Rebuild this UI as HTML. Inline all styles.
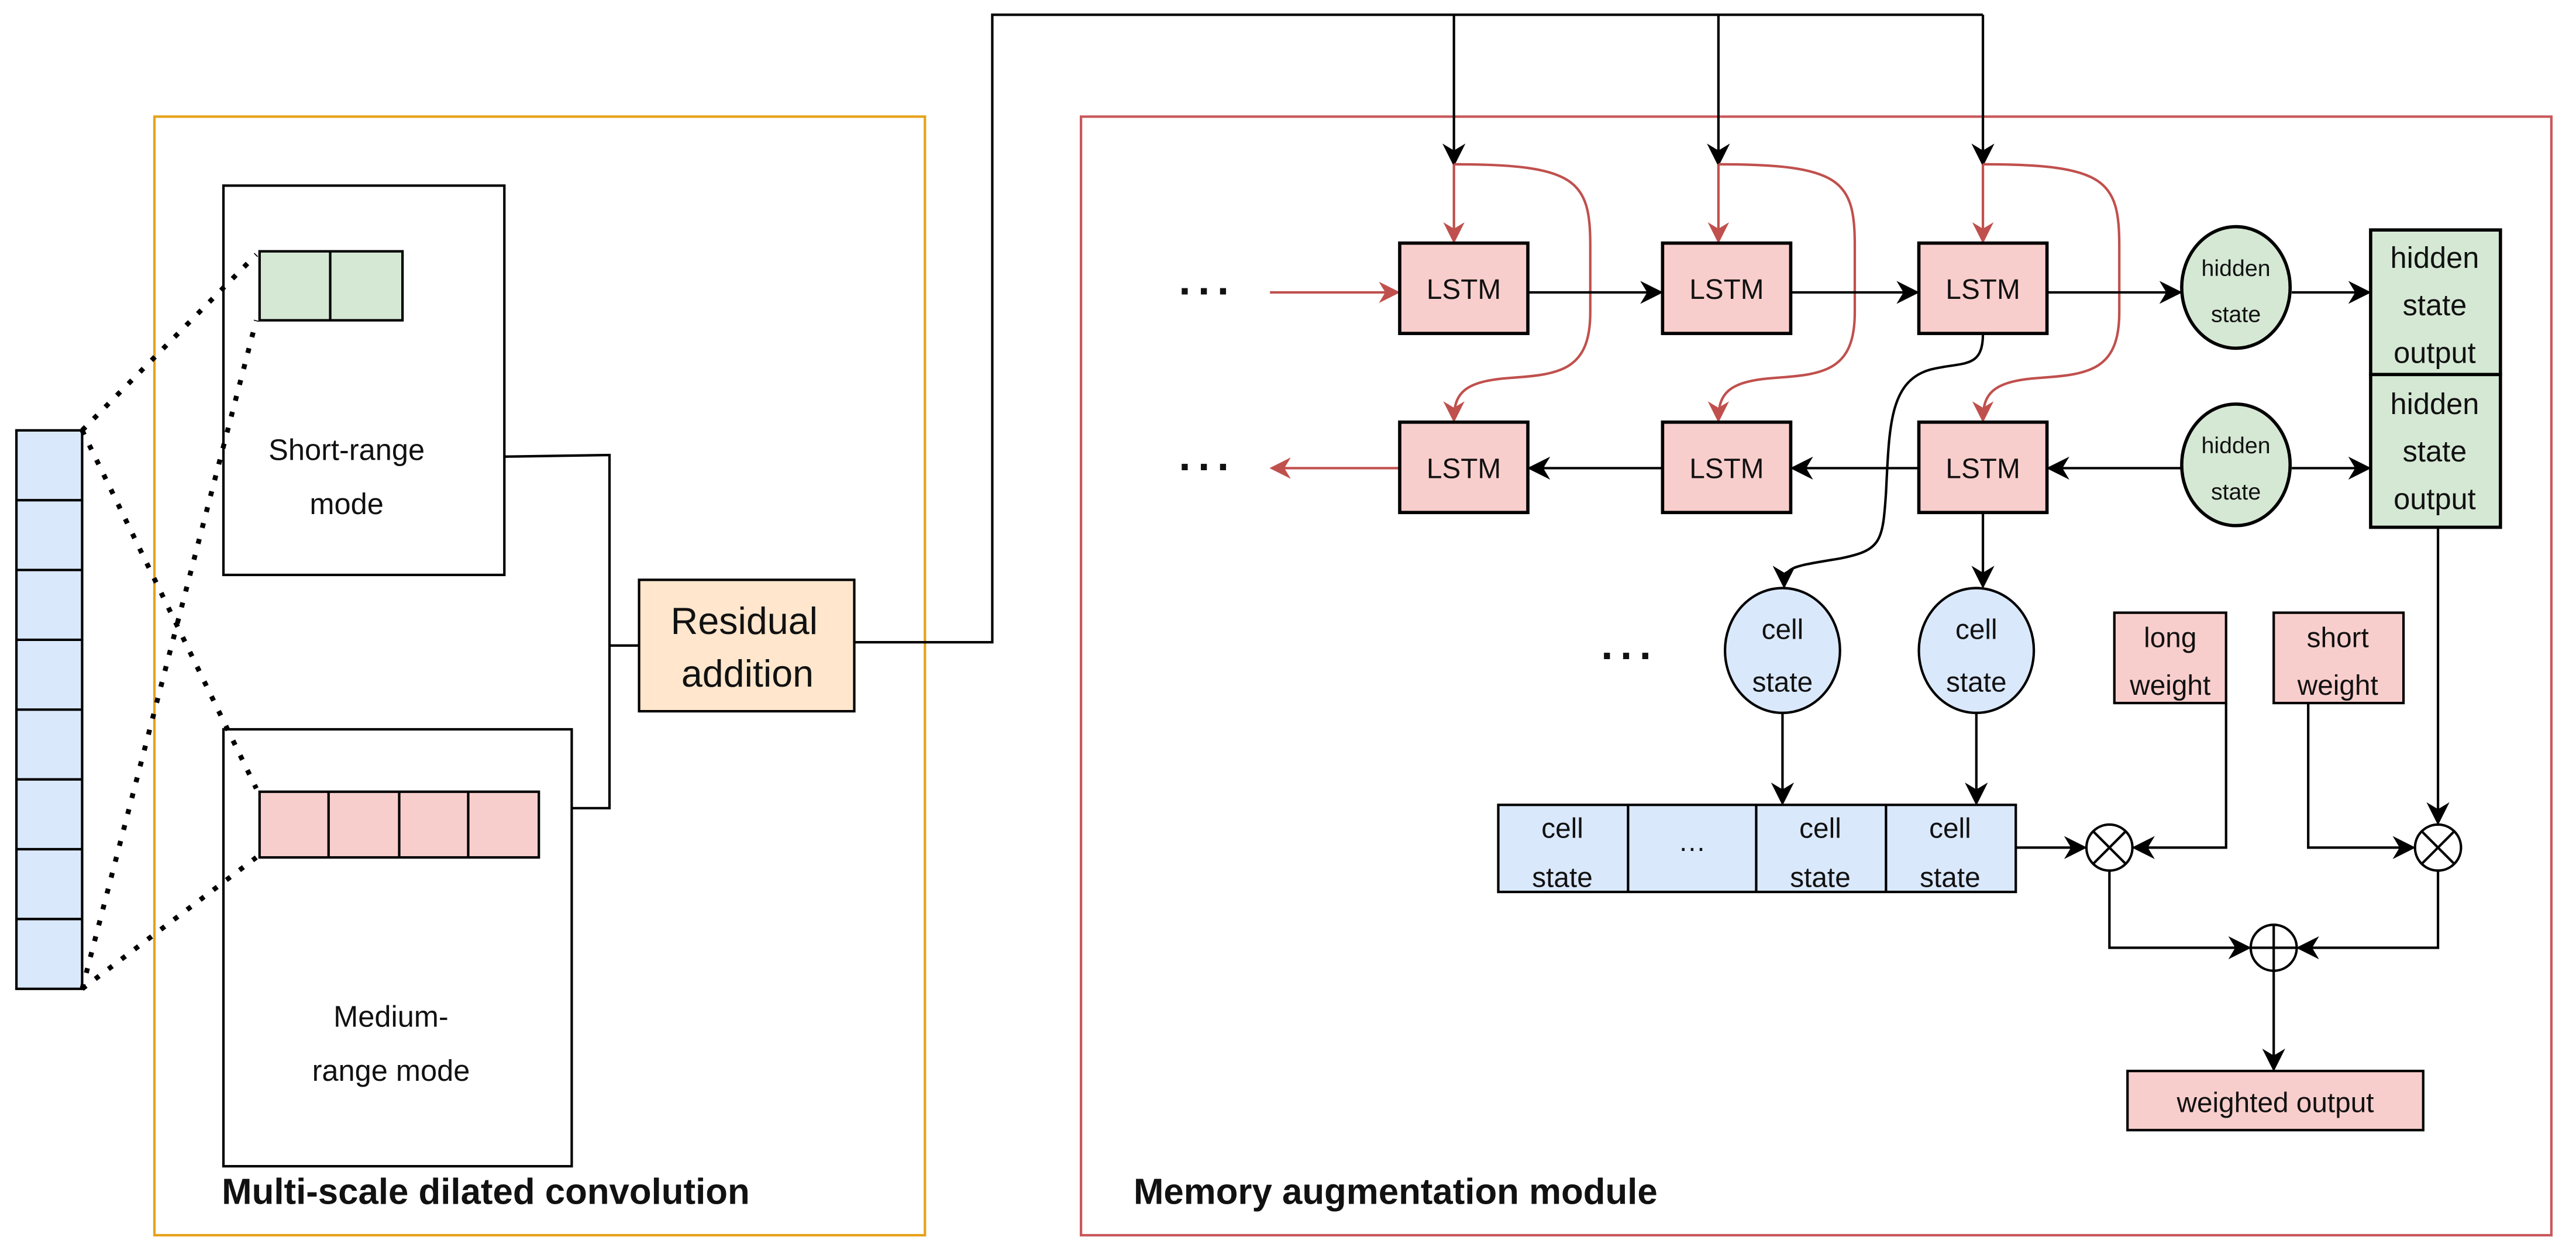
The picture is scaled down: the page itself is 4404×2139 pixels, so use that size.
<!DOCTYPE html>
<html><head><meta charset="utf-8"><style>html,body{margin:0;padding:0;background:#fff}svg{display:block}text{font-family:"Liberation Sans",sans-serif;fill:#111}</style></head>
<body>
<svg width="4404" height="2139" viewBox="0 0 1568 761.6" preserveAspectRatio="none" xmlns="http://www.w3.org/2000/svg">
<defs>
<marker id="abig" viewBox="0 0 10 10" refX="9" refY="5" markerWidth="14" markerHeight="14" orient="auto" markerUnits="userSpaceOnUse"><path d="M0,0 L10,5 L0,10 L3,5 z" fill="#000"/></marker>
<marker id="ar" viewBox="0 0 10 10" refX="9" refY="5" markerWidth="13" markerHeight="13" orient="auto" markerUnits="userSpaceOnUse"><path d="M0,0 L10,5 L0,10 L3,5 z" fill="#c0504d"/></marker>
</defs>
<g fill="none">
<rect x="94" y="71" width="469" height="681" stroke="#e6a21a" stroke-width="1.5"/>
<rect x="658" y="71" width="895" height="681" stroke="#c9575a" stroke-width="1.5"/>
</g>
<g stroke="#000" stroke-width="1.5" fill="#dae8fc">
<rect x="10" y="262" width="40" height="340"/>
<line x1="10" y1="304.5" x2="50" y2="304.5"/><line x1="10" y1="347" x2="50" y2="347"/><line x1="10" y1="389.5" x2="50" y2="389.5"/><line x1="10" y1="432" x2="50" y2="432"/><line x1="10" y1="474.5" x2="50" y2="474.5"/><line x1="10" y1="517" x2="50" y2="517"/><line x1="10" y1="559.5" x2="50" y2="559.5"/>
</g>
<rect x="136" y="113" width="171" height="237" fill="#fff" stroke="#000" stroke-width="1.5"/>
<rect x="136" y="444" width="212" height="266" fill="#fff" stroke="#000" stroke-width="1.5"/>
<g stroke="#000" stroke-width="1.5">
<rect x="158" y="153" width="87" height="42" fill="#d5e8d4"/><line x1="201" y1="153" x2="201" y2="195"/>
<rect x="158" y="482" width="170" height="40" fill="#f8cecc"/><line x1="200" y1="482" x2="200" y2="522"/><line x1="243" y1="482" x2="243" y2="522"/><line x1="285" y1="482" x2="285" y2="522"/>
</g>
<g stroke="#000" stroke-width="3" stroke-dasharray="3,7" fill="none">
<line x1="50" y1="262" x2="156" y2="155"/><line x1="50" y1="262" x2="156" y2="480"/>
<line x1="50" y1="602" x2="156" y2="195"/><line x1="50" y1="602" x2="156" y2="522"/>
</g>
<text x="211" y="280" font-size="18" text-anchor="middle">Short-range</text>
<text x="211" y="313" font-size="18" text-anchor="middle">mode</text>
<text x="238" y="625" font-size="18" text-anchor="middle">Medium-</text>
<text x="238" y="658" font-size="18" text-anchor="middle">range mode</text>
<g stroke="#000" stroke-width="1.5" fill="none">
<polyline points="307,278 371,277 371,492 348,492"/>
<line x1="371" y1="393" x2="389" y2="393"/>
<polyline points="520,391 604,391 604,9 1207,9"/>
</g>
<rect x="389" y="353" width="131" height="80" fill="#ffe6cc" stroke="#000" stroke-width="1.5"/>
<text x="453" y="386" font-size="23" text-anchor="middle">Residual</text>
<text x="455" y="418" font-size="23" text-anchor="middle">addition</text>
<g stroke="#000" stroke-width="1.5" fill="none">
<line x1="885" y1="9" x2="885" y2="100" marker-end="url(#abig)"/>
<line x1="1046" y1="9" x2="1046" y2="100" marker-end="url(#abig)"/>
<line x1="1207" y1="9" x2="1207" y2="100" marker-end="url(#abig)"/>
</g>
<g stroke="#c0504d" stroke-width="1.5" fill="none">
<line x1="885" y1="100" x2="885" y2="147" marker-end="url(#ar)"/>
<line x1="1046" y1="100" x2="1046" y2="147" marker-end="url(#ar)"/>
<line x1="1207" y1="100" x2="1207" y2="147" marker-end="url(#ar)"/>
<path d="M885,100 C960,100 968,110 968,150 L968,190 C968,225 950,228 920,230 C890,232 885,240 885,256" marker-end="url(#ar)"/>
<path d="M1046,100 C1121,100 1129,110 1129,150 L1129,190 C1129,225 1111,228 1081,230 C1051,232 1046,240 1046,256" marker-end="url(#ar)"/>
<path d="M1207,100 C1282,100 1290,110 1290,150 L1290,190 C1290,225 1272,228 1242,230 C1212,232 1207,240 1207,256" marker-end="url(#ar)"/>
<line x1="773" y1="178" x2="851" y2="178" marker-end="url(#ar)"/>
<line x1="852" y1="285" x2="774" y2="285" marker-end="url(#ar)"/>
</g>
<text x="735" y="186" font-size="26" text-anchor="middle" font-weight="bold" letter-spacing="3">···</text>
<text x="735" y="293" font-size="26" text-anchor="middle" font-weight="bold" letter-spacing="3">···</text>
<text x="992" y="408" font-size="26" text-anchor="middle" font-weight="bold" letter-spacing="3">···</text>
<g stroke="#000" stroke-width="2" fill="#f8cecc">
<rect x="852" y="148" width="78" height="55"/><rect x="1012" y="148" width="78" height="55"/><rect x="1168" y="148" width="78" height="55"/>
<rect x="852" y="257" width="78" height="55"/><rect x="1012" y="257" width="78" height="55"/><rect x="1168" y="257" width="78" height="55"/>
</g>
<g font-size="17" text-anchor="middle">
<text x="891" y="182">LSTM</text><text x="1051" y="182">LSTM</text><text x="1207" y="182">LSTM</text>
<text x="891" y="291">LSTM</text><text x="1051" y="291">LSTM</text><text x="1207" y="291">LSTM</text>
</g>
<g stroke="#000" stroke-width="1.5" fill="none">
<line x1="930" y1="178" x2="1011" y2="178" marker-end="url(#abig)"/>
<line x1="1090" y1="178" x2="1167" y2="178" marker-end="url(#abig)"/>
<line x1="1246" y1="178" x2="1327" y2="178" marker-end="url(#abig)"/>
<line x1="1395" y1="178" x2="1442" y2="178" marker-end="url(#abig)"/>
<line x1="1012" y1="285" x2="931" y2="285" marker-end="url(#abig)"/>
<line x1="1168" y1="285" x2="1091" y2="285" marker-end="url(#abig)"/>
<line x1="1328" y1="285" x2="1247" y2="285" marker-end="url(#abig)"/>
<line x1="1395" y1="285" x2="1442" y2="285" marker-end="url(#abig)"/>
<path d="M1207,203 C1207,225 1195,220 1175,225 C1150,232 1150,260 1148,300 C1146,330 1145,335 1120,340 C1090,345 1086,345 1086,357" marker-end="url(#abig)"/>
<line x1="1207" y1="312" x2="1207" y2="357" marker-end="url(#abig)"/>
<line x1="1085" y1="434" x2="1085" y2="489" marker-end="url(#abig)"/>
<line x1="1203" y1="434" x2="1203" y2="489" marker-end="url(#abig)"/>
<line x1="1227" y1="516" x2="1269" y2="516" marker-end="url(#abig)"/>
<polyline points="1355,428 1355,516 1299,516" marker-end="url(#abig)"/>
<polyline points="1405,428 1405,516 1469,516" marker-end="url(#abig)"/>
<line x1="1484" y1="321" x2="1484" y2="501" marker-end="url(#abig)"/>
<polyline points="1284,530 1284,577 1369,577" marker-end="url(#abig)"/>
<polyline points="1484,530 1484,577 1399,577" marker-end="url(#abig)"/>
<line x1="1384" y1="591" x2="1384" y2="651" marker-end="url(#abig)"/>
</g>
<g stroke="#000" stroke-width="2" fill="#d5e8d4">
<ellipse cx="1361" cy="175" rx="33" ry="37"/><ellipse cx="1361" cy="283" rx="33" ry="37"/>
<rect x="1443" y="140" width="79" height="88"/><rect x="1443" y="228" width="79" height="93"/>
</g>
<g font-size="14" text-anchor="middle"><text x="1361" y="168">hidden</text><text x="1361" y="196">state</text><text x="1361" y="276">hidden</text><text x="1361" y="304">state</text></g>
<g font-size="18" text-anchor="middle"><text x="1482" y="163">hidden</text><text x="1482" y="192">state</text><text x="1482" y="221">output</text><text x="1482" y="252">hidden</text><text x="1482" y="281">state</text><text x="1482" y="310">output</text></g>
<g stroke="#000" stroke-width="1.5" fill="#dae8fc">
<ellipse cx="1085" cy="396" rx="35" ry="38"/><ellipse cx="1203" cy="396" rx="35" ry="38"/>
<rect x="912" y="490" width="315" height="53"/>
<line x1="991" y1="490" x2="991" y2="543"/><line x1="1069" y1="490" x2="1069" y2="543"/><line x1="1148" y1="490" x2="1148" y2="543"/>
</g>
<g font-size="17" text-anchor="middle"><text x="1085" y="389">cell</text><text x="1085" y="421">state</text><text x="1203" y="389">cell</text><text x="1203" y="421">state</text>
<text x="951" y="510">cell</text><text x="951" y="540">state</text><text x="1030" y="518">…</text><text x="1108" y="510">cell</text><text x="1108" y="540">state</text><text x="1187" y="510">cell</text><text x="1187" y="540">state</text></g>
<g stroke="#000" stroke-width="1.5" fill="#f8cecc">
<rect x="1287" y="373" width="68" height="55"/><rect x="1384" y="373" width="79" height="55"/>
<rect x="1295" y="652" width="180" height="36"/>
</g>
<g font-size="17" text-anchor="middle"><text x="1321" y="394">long</text><text x="1321" y="423">weight</text><text x="1423" y="394">short</text><text x="1423" y="423">weight</text><text x="1385" y="677">weighted output</text></g>
<g stroke="#000" stroke-width="1.5" fill="#fff">
<circle cx="1284" cy="516" r="14"/><circle cx="1484" cy="516" r="14"/><circle cx="1384" cy="577" r="14"/>
<path d="M1274,506 L1294,526 M1294,506 L1274,526 M1474,506 L1494,526 M1494,506 L1474,526 M1370,577 L1398,577 M1384,563 L1384,591" fill="none"/>
</g>
<text x="135" y="733" font-size="22" font-weight="bold">Multi-scale dilated convolution</text>
<text x="690" y="733" font-size="22" font-weight="bold">Memory augmentation module</text>
</svg>
</body></html>
